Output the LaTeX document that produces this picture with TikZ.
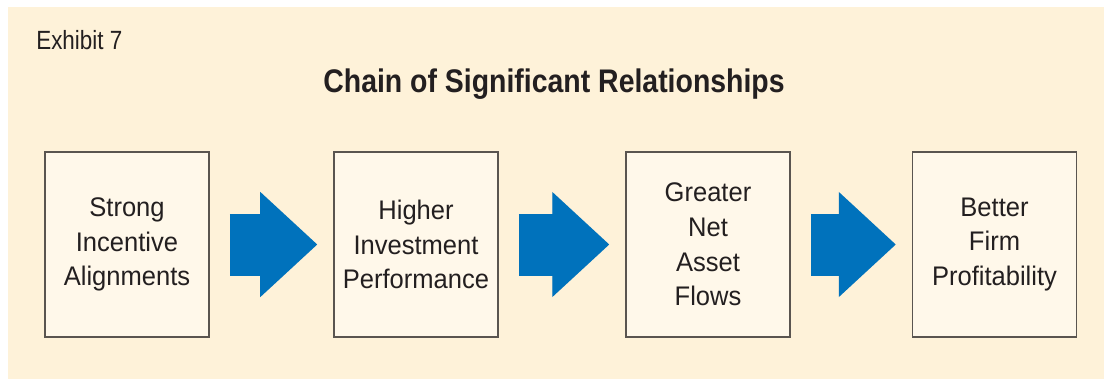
\documentclass[tikz,border=0pt]{standalone}
\usepackage{fontspec}
\setmainfont{Liberation Sans}[FakeStretch=0.95]
\newfontfamily\headfont{Liberation Sans}[FakeStretch=0.87]
\newfontfamily\tagfont{Liberation Sans}[FakeStretch=0.85]
\usetikzlibrary{arrows.meta}

\definecolor{panelbg}{HTML}{FEF2D9}
\definecolor{boxbg}{HTML}{FFF8EA}
\definecolor{boxline}{HTML}{5A5550}
\definecolor{flowblue}{HTML}{0072BC}
\definecolor{ink}{HTML}{231F20}

\tikzstyle{chainstyle}=[
    x=0.02cm, y=-0.02cm,
    every node/.style={text=ink},
    stagebox/.style={
        draw=boxline, fill=boxbg,
        line width=0.9pt,
        minimum width=3.28cm,
        minimum height=3.7cm,
        inner sep=0pt,
        align=center,
        font=\fontsize{15.3}{19.7}\selectfont,
    },
    flow/.style={
        draw=flowblue,
        line width=1.24cm,
        shorten <=0.4cm,
        shorten >=0.32cm,
        -{Triangle[length=1.14cm 0, width=2.1cm 0, line width=0.8pt, color=flowblue, fill=flowblue]},
    },
]

\begin{document}
\begin{tikzpicture}[chainstyle]
        \useasboundingbox (0,0) rectangle (1104,379);
        \fill[panelbg] (8,7) rectangle (1104,379);
        \node (tag) at (36,49) [anchor=base west, inner sep=0pt] {\tagfont\fontsize{15}{18}\selectfont Exhibit 7};
        \node (title) at (554,92) [anchor=base, inner sep=0pt] {\headfont\bfseries\fontsize{18.6}{22}\selectfont Chain of Significant Relationships};
        \node (incentive) at (127,244.5) [stagebox] {Strong\\Incentive\\Alignments};
        \node (performance) at (416,244.5) [stagebox] {Higher\\Investment\\Performance};
        \node (flows) at (708,244.5) [stagebox] {Greater\\Net\\Asset\\Flows};
        \node (profit) at (994.5,244.5) [stagebox] {Better\\Firm\\Profitability};
        \draw[flow] (incentive) -- (performance);
        \draw[flow] (performance) -- (flows);
        \draw[flow] (flows) -- (profit);
    \end{tikzpicture}
\end{document}
